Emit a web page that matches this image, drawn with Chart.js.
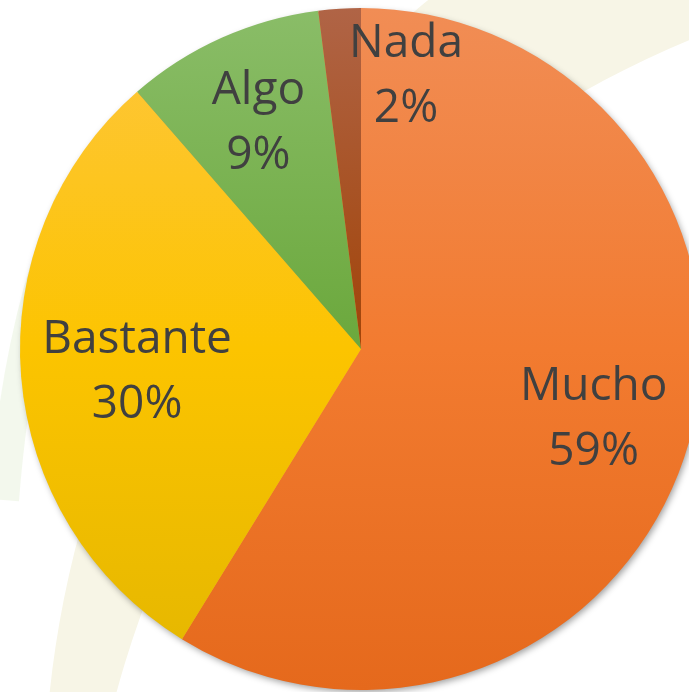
<!DOCTYPE html>
<html>
<head>
<meta charset="utf-8">
<script src="https://cdn.jsdelivr.net/npm/chart.js@4/dist/chart.umd.min.js"></script>
<style>
  body { margin: 0; background: #fff; }
  .wrap { width: 689px; height: 692px; overflow: hidden; position: relative; }
  canvas { display: block; }
</style>
</head>
<body>
<div class="wrap"><canvas class="pie-canvas" width="702" height="692"></canvas></div>
<script>
const pieCanvas = document.querySelector(".pie-canvas")

// data
const categories = ["Mucho", "Bastante", "Algo", "Nada"];
const values = [58.8, 29.8, 9.4, 2.0];

// top / middle / bottom colours of each slice gradient
const sliceColors = [
    ["#F18D55", "#F27B30", "#E5691C"],
    ["#FEC640", "#FCC400", "#E3B600"],
    ["#8ABD68", "#6BA83C", "#5C9832"],
    ["#B06446", "#A14408", "#8E3A06"]
];

// nudges so labels sit where the original has them
const labelNudge = [[3, 1], [14, 0], [-5, -12], [60, -39]];

function sliceFill(context) {
    const chart = context.chart;
    const area = chart.chartArea;
    if (!area) return sliceColors[context.dataIndex][1];
    const c = sliceColors[context.dataIndex];
    const g = chart.ctx.createLinearGradient(0, area.top, 0, area.bottom);
    g.addColorStop(0, c[0]);
    g.addColorStop(0.5, c[1]);
    g.addColorStop(1, c[2]);
    return g;
}

const backdrop = {
    id: "backdrop",
    beforeDraw(chart) {
        const ctx = chart.ctx;
        ctx.save();
        // faint green sweep on the left, mostly hidden by the pie
        ctx.beginPath();
        ctx.moveTo(70, 200);
        ctx.quadraticCurveTo(18, 320, 4, 500);
        ctx.lineWidth = 30;
        ctx.lineCap = "butt";
        ctx.strokeStyle = "rgba(228,240,214,0.45)";
        ctx.stroke();
        // cream crescent behind the pie
        ctx.beginPath();
        ctx.arc(1069, 800, 1025, 0, Math.PI * 2);
        ctx.moveTo(1069 + 987, 951);
        ctx.arc(1069, 951, 987, 0, Math.PI * 2);
        ctx.fillStyle = "#F7F5E6";
        ctx.fill("evenodd");
        ctx.restore();
    },
    beforeDatasetsDraw(chart) {
        const arc = chart.getDatasetMeta(0).data[0];
        if (!arc) return;
        const ctx = chart.ctx;
        ctx.save();
        ctx.shadowColor = "rgba(0,0,0,0.4)";
        ctx.shadowBlur = 7;
        ctx.shadowOffsetX = 2;
        ctx.shadowOffsetY = 3;
        ctx.beginPath();
        ctx.arc(arc.x, arc.y, arc.outerRadius - 1, 0, Math.PI * 2);
        ctx.fillStyle = "#E9A040";
        ctx.fill();
        ctx.restore();
    }
};

const sliceLabels = {
    id: "sliceLabels",
    afterDatasetsDraw(chart) {
        const ctx = chart.ctx;
        const meta = chart.getDatasetMeta(0);
        const total = values.reduce((a, b) => a + b, 0);
        ctx.save();
        ctx.fillStyle = "#404040";
        ctx.font = "46px 'Open Sans'";
        ctx.textAlign = "center";
        ctx.textBaseline = "alphabetic";
        meta.data.forEach((arc, i) => {
            const mid = (arc.startAngle + arc.endAngle) / 2;
            const r = arc.outerRadius * 0.7;
            const x = arc.x + Math.cos(mid) * r + labelNudge[i][0];
            const y = arc.y + Math.sin(mid) * r + labelNudge[i][1];
            const pct = Math.round(values[i] / total * 100) + "%";
            ctx.fillText(categories[i], x, y - 15);
            ctx.fillText(pct, x, y + 50);
        });
        ctx.restore();
    }
};

new Chart(pieCanvas, {
    type: "pie",
    data: {
        labels: categories,
        datasets: [
            {
                data: values,
                backgroundColor: sliceFill,
                borderWidth: 0
            }
        ]
    },
    options: {
        responsive: false,
        animation: false,
        layout: { padding: { left: 20, top: 8, right: 0, bottom: 2 } },
        plugins: {
            legend: { display: false },
            tooltip: { enabled: false }
        }
    },
    plugins: [backdrop, sliceLabels]
});
</script>
</body>
</html>
